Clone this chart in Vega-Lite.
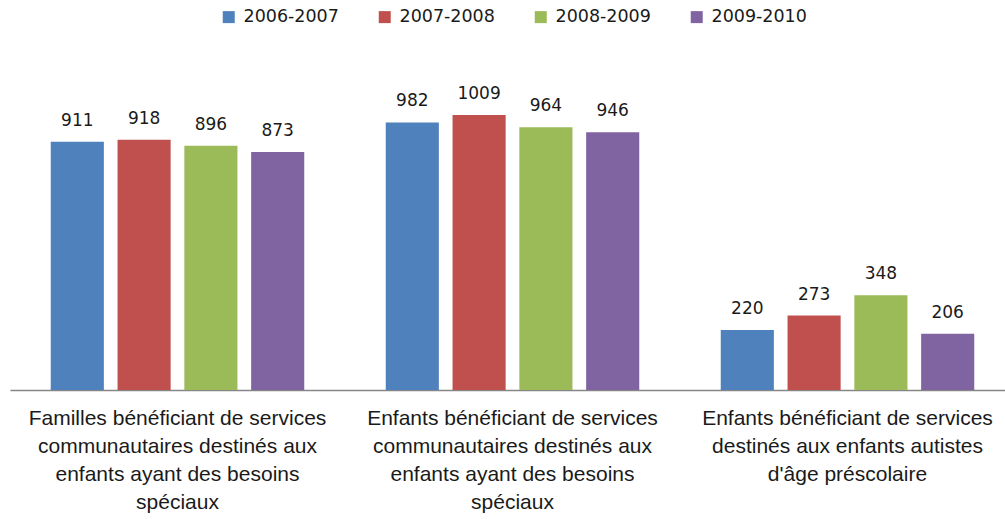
{
  "$schema": "https://vega.github.io/schema/vega-lite/v6.json",
  "autosize": {"type": "none"},
  "width": 995,
  "height": 327,
  "padding": {"left": 10, "top": 63, "right": 0, "bottom": 129},
  "background": "white",
  "config": {"view": {"stroke": null}},
  "data": {
    "values": [
      {"cat": "Familles bénéficiant de services|communautaires destinés aux|enfants ayant des besoins|spéciaux", "year": "2006-2007", "value": 911},
      {"cat": "Familles bénéficiant de services|communautaires destinés aux|enfants ayant des besoins|spéciaux", "year": "2007-2008", "value": 918},
      {"cat": "Familles bénéficiant de services|communautaires destinés aux|enfants ayant des besoins|spéciaux", "year": "2008-2009", "value": 896},
      {"cat": "Familles bénéficiant de services|communautaires destinés aux|enfants ayant des besoins|spéciaux", "year": "2009-2010", "value": 873},
      {"cat": "Enfants bénéficiant de services|communautaires destinés aux|enfants ayant des besoins|spéciaux", "year": "2006-2007", "value": 982},
      {"cat": "Enfants bénéficiant de services|communautaires destinés aux|enfants ayant des besoins|spéciaux", "year": "2007-2008", "value": 1009},
      {"cat": "Enfants bénéficiant de services|communautaires destinés aux|enfants ayant des besoins|spéciaux", "year": "2008-2009", "value": 964},
      {"cat": "Enfants bénéficiant de services|communautaires destinés aux|enfants ayant des besoins|spéciaux", "year": "2009-2010", "value": 946},
      {"cat": "Enfants bénéficiant de services|destinés aux enfants autistes|d'âge préscolaire", "year": "2006-2007", "value": 220},
      {"cat": "Enfants bénéficiant de services|destinés aux enfants autistes|d'âge préscolaire", "year": "2007-2008", "value": 273},
      {"cat": "Enfants bénéficiant de services|destinés aux enfants autistes|d'âge préscolaire", "year": "2008-2009", "value": 348},
      {"cat": "Enfants bénéficiant de services|destinés aux enfants autistes|d'âge préscolaire", "year": "2009-2010", "value": 206}
    ]
  },
  "encoding": {
    "x": {
      "field": "cat", "type": "nominal", "sort": null, "title": null,
      "scale": {"range": [0, 1005], "paddingInner": 0, "paddingOuter": 0},
      "axis": {
        "labelAngle": 0, "ticks": false, "domainColor": "#868686", "domainWidth": 1.5,
        "labelExpr": "split(datum.label, '|')", "labelLimit": 0,
        "labelFont": "Liberation Sans", "labelFontSize": 21, "labelLineHeight": 28,
        "labelColor": "#1a1a1a", "labelPadding": 17, "labelBaseline": "top"
      }
    },
    "xOffset": {
      "field": "year", "type": "nominal",
      "scale": {"paddingInner": 0.205, "paddingOuter": 0.61}
    },
    "y": {
      "field": "value", "type": "quantitative", "axis": null,
      "scale": {"domain": [0, 1200], "nice": false}
    }
  },
  "layer": [
    {
      "mark": {"type": "bar"},
      "encoding": {
        "color": {
          "field": "year", "type": "nominal", "title": null,
          "scale": {"domain": ["2006-2007", "2007-2008", "2008-2009", "2009-2010"], "range": ["#4F81BD", "#C0504D", "#9BBB59", "#8064A2"]},
          "legend": {
            "orient": "none", "direction": "horizontal", "legendX": 210, "legendY": -55,
            "symbolType": "square", "symbolSize": 144, "symbolStrokeWidth": 0,
            "labelFont": "DejaVu Sans", "labelFontSize": 17.5, "labelColor": "#1a1a1a",
            "labelOffset": 6, "columnPadding": 37
          }
        }
      }
    },
    {
      "mark": {"type": "text", "baseline": "bottom", "dy": -12, "font": "DejaVu Sans", "fontSize": 17, "color": "#1a1a1a"},
      "encoding": {"text": {"field": "value", "type": "quantitative"}}
    }
  ]
}
